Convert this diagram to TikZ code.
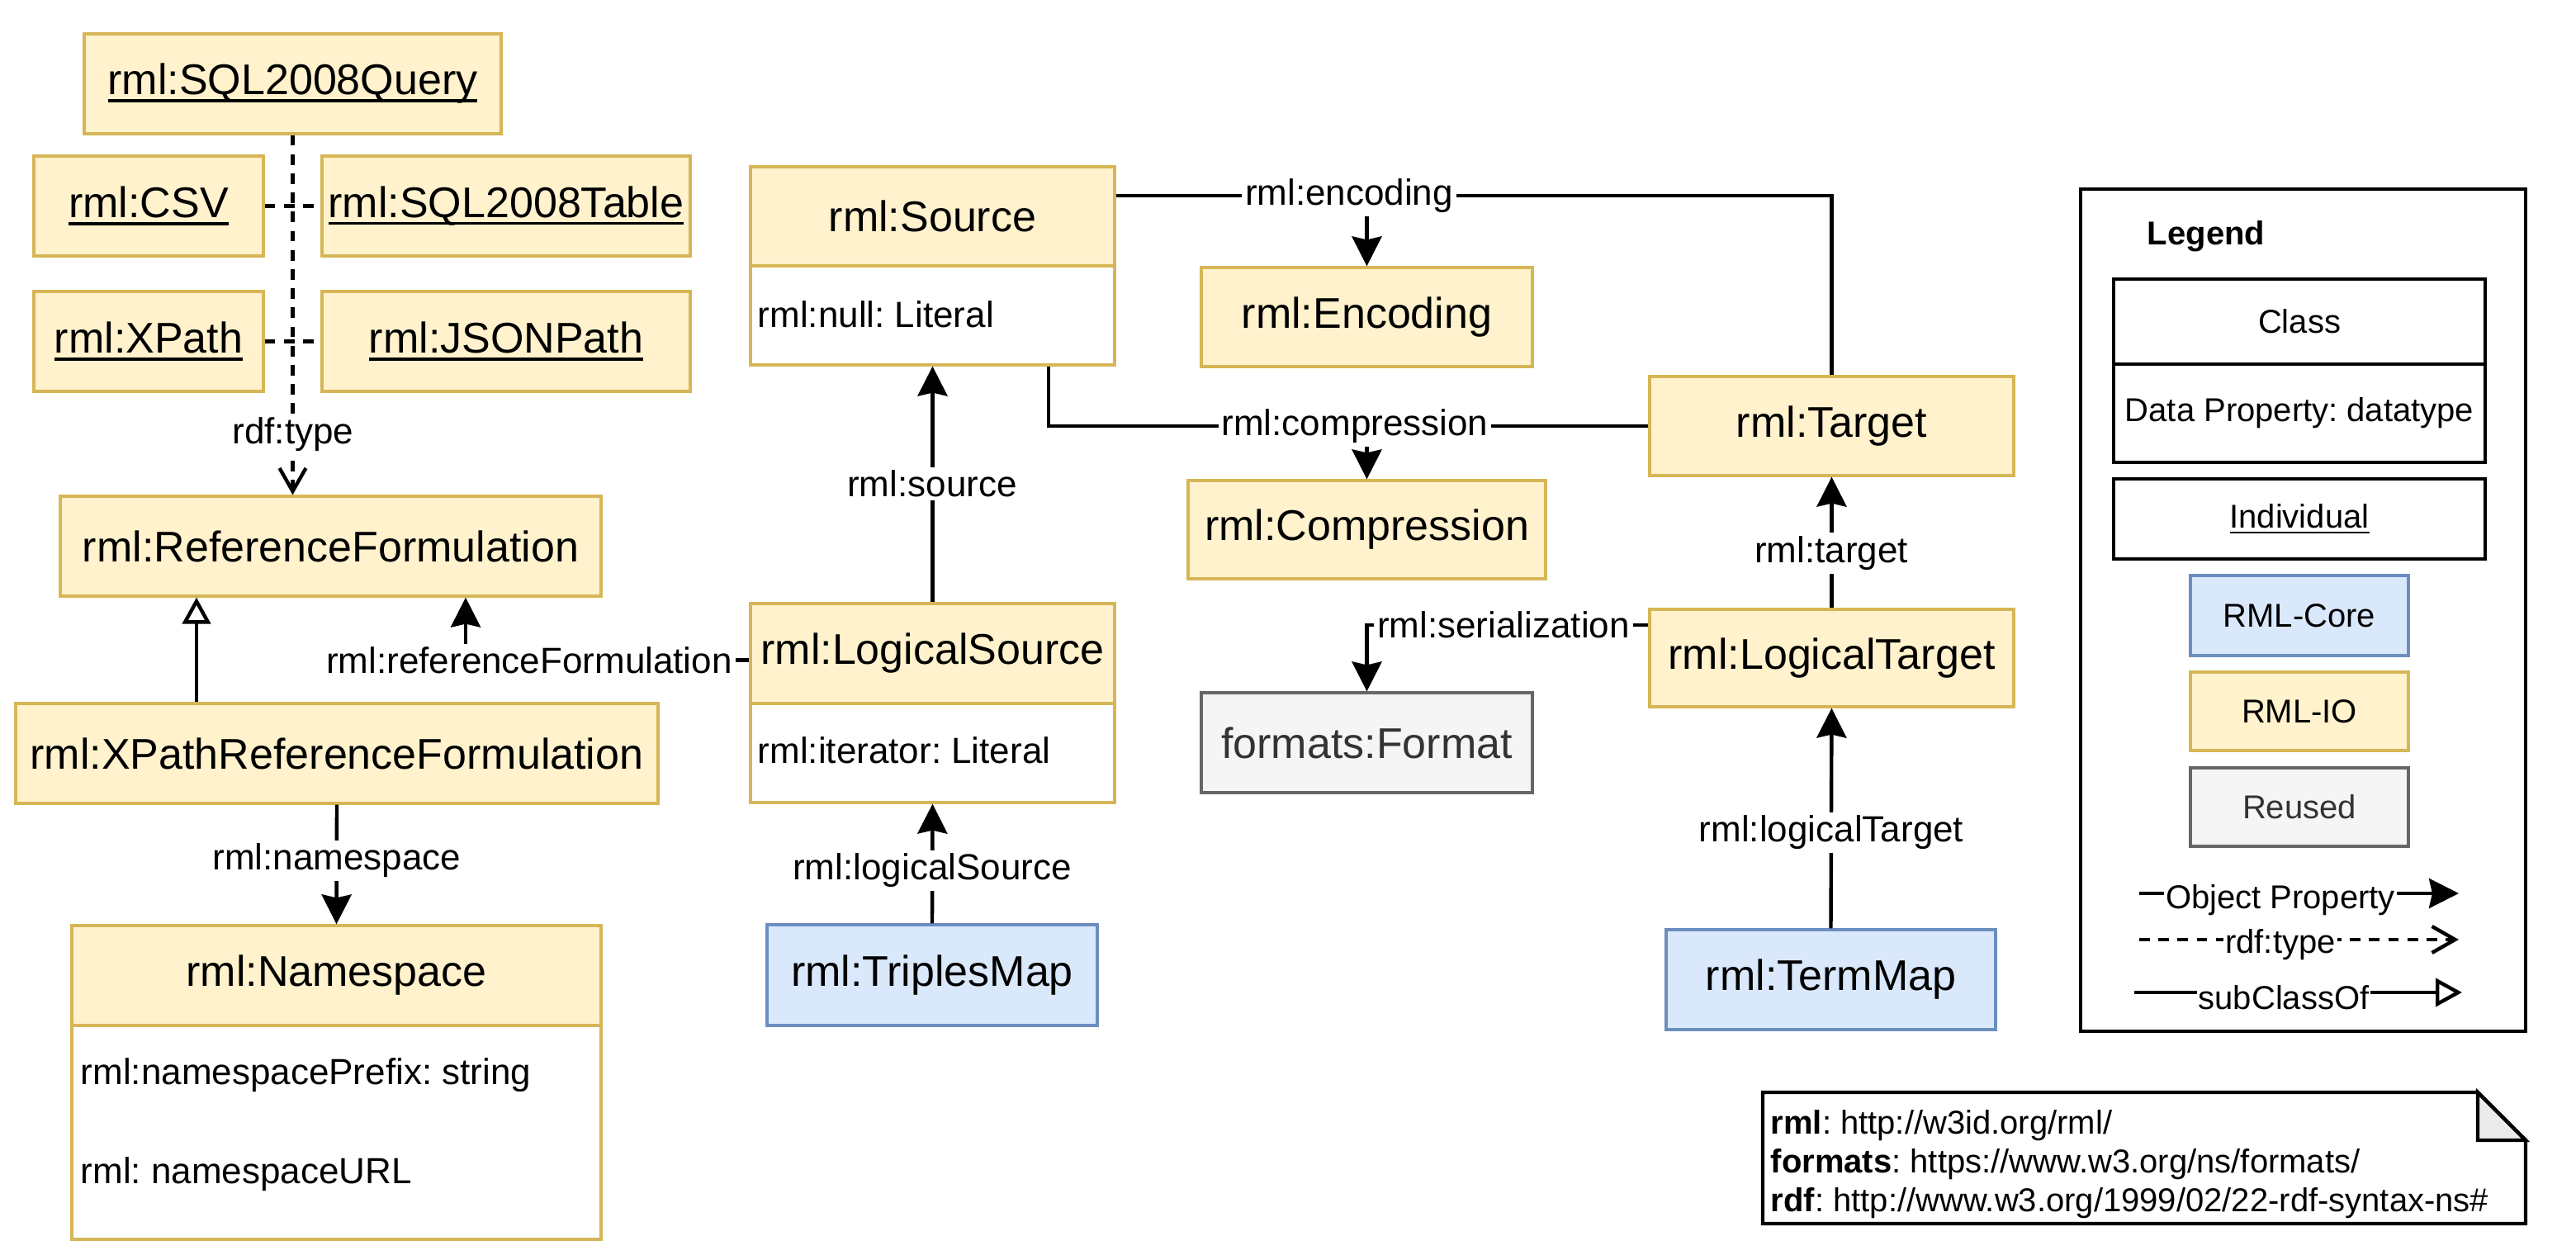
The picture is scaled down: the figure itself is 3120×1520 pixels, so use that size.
\documentclass[tikz,border=0pt]{standalone}
\usepackage{fontspec}
\setmainfont{Liberation Sans}
\usetikzlibrary{arrows.meta}
\definecolor{yelfill}{HTML}{FFF2CC}
\definecolor{yelline}{HTML}{D6B656}
\definecolor{blufill}{HTML}{DAE8FC}
\definecolor{bluline}{HTML}{6C8EBF}
\definecolor{grefill}{HTML}{F5F5F5}
\definecolor{greline}{HTML}{666666}
\definecolor{gretext}{HTML}{333333}
\definecolor{foldfill}{HTML}{EBEBEB}
\frenchspacing
\newcommand\ulx[1]{\setbox0\hbox{#1}\rlap{\rule[-0.17em]{\wd0}{0.065em}}\box0}
\newcommand\mkbox[7]{\node[#2, minimum width={(#5-#3)*0.25pt}, minimum height={(#6-#4)*0.25pt}] (#1) at ({(#3+#5)/2},{(#4+#6)/2}) {#7};}
\begin{document}
\begin{tikzpicture}[x=0.25pt, y=-0.25pt, font=\fontsize{13}{15}\selectfont,
  box/.style={draw, line width=0.8pt, inner sep=0pt, align=center},
  yel/.style={box, fill=yelfill, draw=yelline},
  blu/.style={box, fill=blufill, draw=bluline},
  gre/.style={box, fill=grefill, draw=greline, text=gretext},
  wht/.style={box, fill=white, draw=yelline},
  leg/.style={box, fill=white, draw=black, line width=1.1pt},
  small/.style={font=\fontsize{10}{12}\selectfont},
  lbl/.style={fill=white, inner sep=1pt, font=\fontsize{11}{13}\selectfont},
  attr/.style={anchor=west, inner sep=0pt, font=\fontsize{11}{13}\selectfont},
  objedge/.style={line width=1.1pt, -{Stealth[length=9pt,width=9pt,inset=1pt]}},
  plain/.style={line width=1.1pt},
  dashedge/.style={line width=1.1pt, dash pattern=on 3.2pt off 2.6pt, -{Straight Barb[length=7pt,width=8pt]}},
  subedge/.style={line width=1.1pt, -{Triangle[open,length=8pt,width=8.5pt,fill=white]}}
]
\useasboundingbox (0,0) rectangle (3120,1520);

% individuals
\mkbox{sqlq}{yel}{102}{41}{607}{162}{\ulx{rml:SQL2008Query}}
\mkbox{csv}{yel}{41}{189}{319}{310}{\ulx{rml:CSV}}
\mkbox{sqlt}{yel}{390}{189}{836}{310}{\ulx{rml:SQL2008Table}}
\mkbox{xpath}{yel}{41}{353}{319}{474}{\ulx{rml:XPath}}
\mkbox{json}{yel}{390}{353}{836}{474}{\ulx{rml:JSONPath}}

% classes left
\mkbox{rf}{yel}{73}{601}{728}{722}{rml:ReferenceFormulation}
\mkbox{xprf}{yel}{19}{852}{797}{973}{rml:XPathReferenceFormulation}
\mkbox{ns}{yel}{87}{1121}{728}{1242}{rml:Namespace}
\mkbox{nsb}{wht}{87}{1242}{728}{1501}{}
\node[attr] (nsa1) at (97,1302) {rml:namespacePrefix: string};
\node[attr] (nsa2) at (97,1422) {rml: namespaceURL};

% middle
\mkbox{src}{yel}{909}{202}{1350}{322}{rml:Source}
\mkbox{srcb}{wht}{909}{322}{1350}{442}{}
\node[attr] (srca) at (917,381) {rml:null: Literal};
\mkbox{ls}{yel}{909}{731}{1350}{852}{rml:LogicalSource}
\mkbox{lsb}{wht}{909}{852}{1350}{972}{}
\node[attr] (lsa) at (917,909) {rml:iterator: Literal};
\mkbox{tm}{blu}{929}{1120}{1329}{1242}{rml:TriplesMap}
\mkbox{enc}{yel}{1455}{324}{1856}{444}{rml:Encoding}
\mkbox{comp}{yel}{1439}{582}{1872}{701}{rml:Compression}
\mkbox{fmt}{gre}{1455}{839}{1856}{960}{formats:Format}
\mkbox{tgt}{yel}{1998}{456}{2439}{576}{rml:Target}
\mkbox{lt}{yel}{1998}{738}{2439}{856}{rml:LogicalTarget}
\mkbox{termmap}{blu}{2018}{1126}{2417}{1247}{rml:TermMap}

% coordinates
\coordinate (xsub) at (238,0);
\coordinate (xref) at (564,0);
\coordinate (xcomp) at (1270,0);

% edges
\draw[dashedge] (sqlq.south) -- (sqlq.south |- rf.north);
\draw[plain, dash pattern=on 3.2pt off 2.6pt] (csv.east) -- (sqlt.west);
\draw[plain, dash pattern=on 3.2pt off 2.6pt] (xpath.east) -- (json.west);
\draw[subedge] (xsub |- xprf.north) -- (xsub |- rf.south);
\draw[objedge] ([yshift=-2pt]ls.west) -| (xref |- rf.south);
\draw[objedge] (xprf.south) -- (ns.north);
\draw[objedge] (ls.north) -- (srcb.south);
\draw[objedge] (tm.north) -- (lsb.south);
\draw[plain] ([yshift=6.25pt]src.east) -| (tgt.north);
\draw[plain] (xcomp |- srcb.south) |- (tgt.west);
\draw[objedge] ([yshift=10pt]lt.west) -| (fmt.north);
\draw[objedge] (lt.north) -- (tgt.south);
\draw[objedge] (termmap.north) -- (lt.south);

% labels
\node[lbl] (lrdf) at (355,526) {rdf:type};
\node[lbl] (lref) at (641,800) {rml:referenceFormulation};
\node[lbl] (lns) at (408,1042) {rml:namespace};
\node[lbl] (lsrc) at (1129,586) {rml:source};
\node[lbl] (llsrc) at (1129,1054) {rml:logicalSource};
\node[lbl] (lenc) at (1634,237) {rml:encoding};
\node[lbl] (lcomp) at (1641,516) {rml:compression};
\node[lbl] (lser) at (1821,757) {rml:serialization};
\node[lbl] (ltgt) at (2218,670) {rml:target};
\node[lbl] (lltgt) at (2218,1008) {rml:logicalTarget};
\draw[objedge] (enc.north |- lenc.south) -- (enc.north);
\draw[objedge] (comp.north |- lcomp.south) -- (comp.north);

% legend
\mkbox{legend}{leg}{2520}{229}{3059}{1249}{}
\node[small, font=\bfseries\fontsize{10}{12}\selectfont] (legt) at (2672,286) {Legend};
\mkbox{lcls}{leg, small}{2560}{338}{3010}{441}{Class}
\mkbox{lclsb}{leg, small}{2560}{441}{3010}{560}{Data Property: datatype}
\mkbox{lind}{leg, small}{2560}{580}{3010}{677}{\ulx{Individual}}
\mkbox{lcore}{blu, small}{2653}{697}{2917}{794}{RML-Core}
\mkbox{lio}{yel, small}{2653}{814}{2917}{909}{RML-IO}
\mkbox{lreu}{gre, small}{2653}{930}{2917}{1025}{Reused}
\coordinate (op1) at (2591,1082);
\coordinate (op2) at (2978,1082);
\coordinate (rt1) at (2591,1138);
\coordinate (rt2) at (2978,1138);
\coordinate (sc1) at (2585,1202);
\coordinate (sc2) at (2982,1202);
\draw[objedge] (op1) -- (op2);
\draw[dashedge] (rt1) -- (rt2);
\draw[subedge] (sc1) -- (sc2);
\node[lbl, small, inner sep=0.5pt] (opl) at (2762,1090) {Object Property};
\node[lbl, small, inner sep=0.5pt] (rtl) at (2762,1144) {rdf:type};
\node[lbl, small, inner sep=0.5pt] (scl) at (2766,1208) {subClassOf};

% note
\draw[line width=1.1pt, fill=white] (2135,1323) -- (3001,1323) -- (3059,1381) -- (3059,1482) -- (2135,1482) -- cycle;
\draw[line width=1.1pt, fill=foldfill] (3001,1323) -- (3001,1381) -- (3059,1381) -- cycle;
\node[anchor=west, align=left, inner sep=0pt, font=\fontsize{10}{11.8}\selectfont] (notet) at (2144,1410)
  {\textbf{rml}: http://w3id.org/rml/\\ \textbf{formats}: https://www.w3.org/ns/formats/\\ \textbf{rdf}: http://www.w3.org/1999/02/22-rdf-syntax-ns\#};
\end{tikzpicture}
\end{document}
